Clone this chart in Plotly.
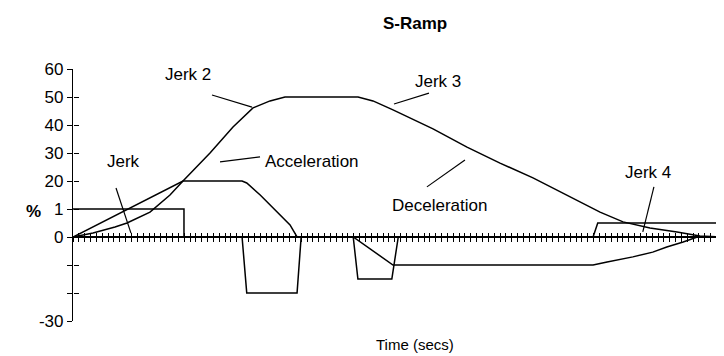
import plotly.graph_objects as go

# time in tick units, values in axis-position units (tick labels map them to %)
t_jerk = [0, 18.97, 18.97, 28.9, 29.7, 38.3, 39.0, 47.9, 48.7, 54.5, 55.6, 88.9, 89.7, 111.3]
jerk = [1, 1, 0, 0, -2, -2, 0, 0, -1.5, -1.5, 0, 0, 0.5, 0.5]

t_acc = [0, 18.8, 28.9, 29.7, 32.0, 34.9, 37.1, 38.3, 47.9, 54.7, 88.9, 91.3, 95.7, 99.1, 101.5, 104.3, 106.7, 111.3]
acc = [0, 2, 2, 1.93, 1.5, 0.89, 0.43, 0, 0, -1, -1, -0.89, -0.71, -0.54, -0.36, -0.18, 0, 0]

t_vel = [0, 3.42, 7.18, 9.23, 13.16, 16.58, 18.8, 21.71, 23.42, 27.35, 30.77, 33.68, 36.24,
         48.72, 51.28, 54.7, 57.61, 61.54, 67.35, 72.99, 78.63, 84.44, 90.09, 94.02, 98.63,
         103.25, 107.18, 111.28]
vel = [0, 0.14, 0.36, 0.5, 0.89, 1.5, 2.0, 2.64, 3.0, 3.93, 4.61, 4.86, 5.0,
       5.0, 4.86, 4.54, 4.25, 3.86, 3.21, 2.64, 2.11, 1.5, 0.89, 0.54, 0.32,
       0.18, 0.04, 0]

tick_vals = [6, 5, 4, 3, 2, 1, 0, -1, -2, -3]
tick_text = ["60", "50", "40", "30", "20", "1", "0", "", "", "-30"]

# callouts: label, text position, pointer start, pointer end
labels = ["Jerk", "Jerk 2", "Jerk 3", "Acceleration", "Deceleration", "Jerk 4"]
label_t = [8.7, 19.7, 62.4, 40.9, 62.6, 98.3]
label_v = [2.71, 5.79, 5.54, 2.71, 1.14, 2.29]
ptr_t0 = [7.35, 23.76, 60.85, 25.13, 67.0, 99.3]
ptr_v0 = [1.75, 5.07, 5.14, 2.68, 2.75, 1.79]
ptr_t1 = [9.91, 30.6, 54.87, 31.97, 60.5, 97.4]
ptr_v1 = [0.14, 4.64, 4.75, 2.86, 1.79, 0.18]

FONT = "Liberation Sans, Arial, sans-serif"
FS = 17
x_max = 111.28

fig = go.Figure()
for xs, ys in [(t_jerk, jerk), (t_acc, acc), (t_vel, vel)]:
    fig.add_trace(go.Scatter(x=xs, y=ys, mode="lines",
                             line=dict(color="black", width=1.5),
                             showlegend=False, hoverinfo="skip", cliponaxis=False))

# dummy trace so the overlay axes (inner half of the cross ticks) get drawn
fig.add_trace(go.Scatter(x=[None], y=[None], xaxis="x2", yaxis="y2", showlegend=False))

for i in range(len(labels)):
    fig.add_annotation(x=label_t[i], y=label_v[i], text=labels[i], showarrow=False,
                       xanchor="center", yanchor="middle",
                       font=dict(family=FONT, size=FS, color="black"))
    fig.add_shape(type="line", x0=ptr_t0[i], y0=ptr_v0[i], x1=ptr_t1[i], y1=ptr_v1[i],
                  xref="x", yref="y", line=dict(color="black", width=1.2))

fig.add_annotation(x=0.5253, y=1.1825, xref="paper", yref="paper", text="<b>S-Ramp</b>",
                   xanchor="center", yanchor="middle", showarrow=False,
                   font=dict(family=FONT, size=FS, color="black"))
fig.add_annotation(x=0.5253, y=-0.0952, xref="paper", yref="paper", text="Time (secs)",
                   xanchor="center", yanchor="middle", showarrow=False,
                   font=dict(family=FONT, size=15, color="black"))
fig.add_annotation(x=-0.0614, y=0.4365, xref="paper", yref="paper", text="<b>%</b>",
                   xanchor="center", yanchor="middle", showarrow=False,
                   font=dict(family=FONT, size=FS, color="black"))

axis_common = dict(showgrid=False, zeroline=False)
# the page body adds an 8px offset, so the figure is 8px smaller on each side
fig.update_layout(
    width=716, height=348,
    margin=dict(l=65, r=0, t=61, b=35),
    plot_bgcolor="white", paper_bgcolor="white",
    font=dict(family=FONT, size=FS, color="black"),
    xaxis=dict(range=[0, x_max], anchor="free", position=1 / 3, showline=True,
               linecolor="black", linewidth=1.5, ticks="outside", ticklen=4,
               tickcolor="black", tickmode="linear", tick0=0, dtick=1,
               showticklabels=False, **axis_common),
    xaxis2=dict(range=[0, x_max], overlaying="x", anchor="free", position=1 / 3,
                showline=False, ticks="inside", ticklen=4, tickcolor="black",
                tickmode="linear", tick0=0, dtick=1, showticklabels=False, **axis_common),
    yaxis=dict(range=[-3, 6], showline=True, linecolor="black", linewidth=1.2,
               ticks="outside", ticklen=5, tickcolor="black", tickmode="array",
               tickvals=tick_vals, ticktext=tick_text, tickfont=dict(size=FS),
               **axis_common),
    yaxis2=dict(range=[-3, 6], overlaying="y", anchor="free", position=0,
                showline=False, ticks="inside", ticklen=5, tickcolor="black",
                tickmode="array", tickvals=tick_vals, showticklabels=False,
                **axis_common),
)

fig.write_html("out.html")
